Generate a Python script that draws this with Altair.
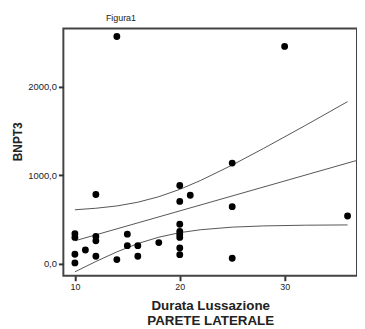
import altair as alt
import pandas as pd

# scatter points (Durata Lussazione vs BNPT3)
pt_x = [10, 10, 10, 10, 11, 12, 12, 12, 12, 14, 14, 15, 15, 16, 16, 18,
        20, 20, 20, 20, 20, 20, 20, 20, 21, 25, 25, 25, 30, 36]
pt_y = [340, 298, 108, 11, 156, 782, 309, 260, 86, 2563, 48, 335, 205, 205, 86, 240,
        883, 704, 447, 365, 330, 298, 179, 104, 774, 1136, 645, 64, 2451, 540]

# fitted line and 95% bands
fit_x = [10, 36.9]
fit_y = [260, 1167]
band_x = [10, 12, 14, 16, 18, 20, 22, 25, 28, 32, 36]
upper_y = [610, 627, 653, 695, 757, 840, 941, 1114, 1302, 1562, 1829]
lower_y = [-90, 27, 135, 229, 301, 352, 385, 414, 428, 436, 439]

x_ticks = [10, 20, 30]
y_ticks = [0, 1000, 2000]

points = pd.DataFrame({"x": pt_x, "y": pt_y})
lines = pd.concat([
    pd.DataFrame({"x": fit_x, "y": fit_y, "s": "fit"}),
    pd.DataFrame({"x": band_x, "y": upper_y, "s": "upper"}),
    pd.DataFrame({"x": band_x, "y": lower_y, "s": "lower"}),
])

FONT = "Liberation Sans"
xs = alt.Scale(domain=[8.9, 36.9], nice=False, zero=False)
ys = alt.Scale(domain=[-134, 2652], nice=False, zero=False)

xax = alt.Axis(values=x_ticks, grid=False, domain=False, tickSize=5, tickWidth=2,
               tickColor="#333", labelFontSize=9, labelFont=FONT, labelPadding=2,
               labelColor="#222",
               title=["Durata Lussazione", "PARETE LATERALE"], titleFont=FONT,
               titleFontSize=13.5, titleFontWeight="bold", titleLineHeight=15,
               titleBaseline="alphabetic", titleY=34, titleColor="#222")
yax = alt.Axis(values=y_ticks, grid=False, domain=False, tickSize=5, tickWidth=2,
               tickColor="#333", labelFontSize=9.5, labelFont=FONT, labelPadding=2,
               labelColor="#222",
               labelExpr="replace(format(datum.value, '.1f'), '.', ',')",
               title="BNPT3", titleFont=FONT, titleFontSize=12, titleFontWeight="bold",
               titleAngle=270, titleBaseline="middle", titleAlign="center",
               titleX=-46, titleY=114, titleColor="#222")

line_layer = alt.Chart(lines).mark_line(color="#555", strokeWidth=1).encode(
    x=alt.X("x:Q", scale=xs, axis=xax),
    y=alt.Y("y:Q", scale=ys, axis=yax),
    detail="s:N",
)
pt_layer = alt.Chart(points).mark_point(filled=True, color="black", opacity=1, size=48,
                                         shape="circle").encode(
    x=alt.X("x:Q", scale=xs),
    y=alt.Y("y:Q", scale=ys),
)

chart = alt.layer(line_layer, pt_layer).properties(
    width=297, height=250,
    background="white",
    title=alt.TitleParams("Figura1", anchor="start", frame="group", dx=43, fontSize=9,
                          font=FONT, fontWeight="normal", color="#222", offset=6),
    autosize=alt.AutoSizeParams(type="none"),
    padding={"left": 56, "top": 19, "right": 0, "bottom": 52},
).configure_view(stroke="#444", strokeWidth=2)

chart.save("out.html", embed_options={"renderer": "svg", "actions": False})
